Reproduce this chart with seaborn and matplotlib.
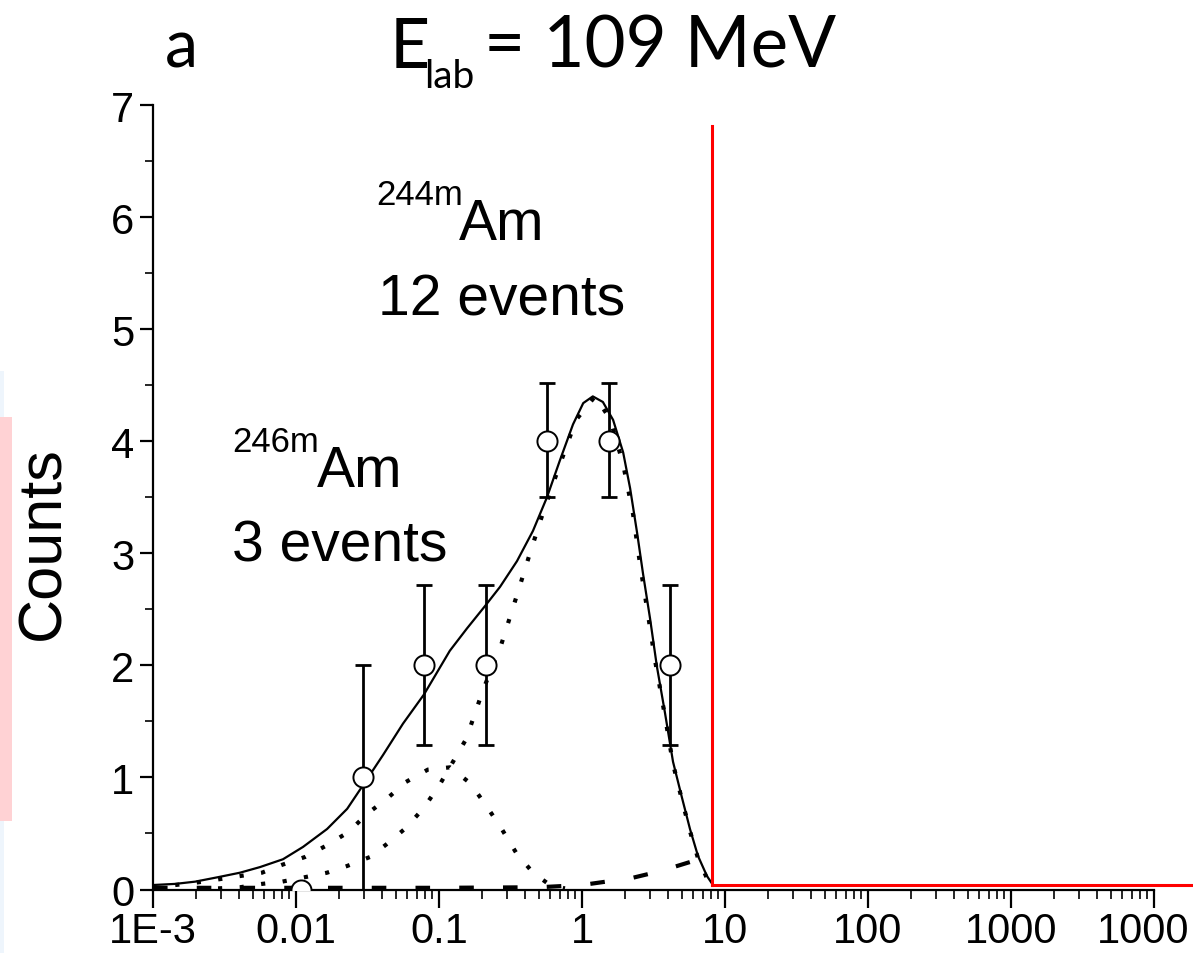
import numpy as np
import pandas as pd
import matplotlib
matplotlib.use("Agg")
import matplotlib.pyplot as plt
from matplotlib.patches import Rectangle
from matplotlib.ticker import FixedLocator, FixedFormatter, LogLocator, NullFormatter
import seaborn as sns

# Measured decay times (log bins) and counts with asymmetric errors
bin_time = [0.0108, 0.0294, 0.0790, 0.213, 0.570, 1.55, 4.10]
bin_counts = [0, 1, 2, 2, 4, 4, 2]
err_low = [0.0, 1.0, 0.71, 0.71, 0.50, 0.50, 0.71]
err_high = [0.0, 1.0, 0.72, 0.72, 0.52, 0.52, 0.72]

# Total fit
fit_time = [0.00100, 0.00143, 0.00197, 0.00285, 0.00406, 0.00560, 0.00811, 0.0112,
            0.0165, 0.0228, 0.0294, 0.0406, 0.0560, 0.0785, 0.119, 0.157, 0.210,
            0.267, 0.351, 0.454, 0.569, 0.701, 0.865, 1.02, 1.19, 1.40, 1.65, 1.94,
            2.17, 2.43, 2.67, 2.99, 3.34, 3.80, 4.33, 5.00, 5.69, 6.47, 7.48, 8.24]
fit_total = [0.04, 0.05, 0.07, 0.11, 0.15, 0.20, 0.27, 0.38,
             0.54, 0.72, 0.93, 1.20, 1.48, 1.74, 2.13, 2.33, 2.53,
             2.70, 2.93, 3.20, 3.50, 3.83, 4.15, 4.34, 4.40, 4.35, 4.19, 3.90,
             3.58, 3.18, 2.82, 2.42, 1.99, 1.58, 1.14, 0.82, 0.54, 0.30, 0.12, 0.04]

# 244mAm component
am244_time = [0.00285, 0.00406, 0.00578, 0.00798, 0.01156, 0.0165, 0.0228, 0.0329,
              0.0426, 0.0588, 0.0785, 0.1016, 0.1545, 0.2032, 0.2716, 0.3455, 0.4325,
              0.5333, 0.6683, 0.908, 1.233, 1.570, 1.936, 2.275, 2.547, 2.897, 3.237,
              3.80, 4.33, 5.00, 5.69, 6.47, 7.48, 8.24]
am244_counts = [0.01, 0.02, 0.05, 0.07, 0.11, 0.15, 0.21, 0.29,
                0.40, 0.55, 0.73, 0.94, 1.34, 1.78, 2.18, 2.60, 3.00,
                3.36, 3.72, 4.19, 4.40, 4.20, 3.80, 3.35, 2.90, 2.45, 2.05,
                1.55, 1.12, 0.80, 0.52, 0.28, 0.10, 0.03]

# 246mAm component
am246_time = [0.00143, 0.00197, 0.00285, 0.00406, 0.00578, 0.00798, 0.01156, 0.0162,
              0.0231, 0.0318, 0.0432, 0.0588, 0.0837, 0.1194, 0.1648, 0.2133, 0.2716,
              0.3455, 0.4539, 0.5969, 0.7598]
am246_counts = [0.04, 0.06, 0.09, 0.12, 0.15, 0.22, 0.29, 0.39,
                0.51, 0.68, 0.81, 0.96, 1.07, 1.09, 0.95, 0.75, 0.55,
                0.33, 0.15, 0.04, 0.01]

# Long-lived contribution
bg_time = [0.001, 0.1, 0.5, 1.0, 1.47, 2.03, 3.56, 6.58, 8.2]
bg_counts = [0.015, 0.015, 0.02, 0.04, 0.07, 0.09, 0.165, 0.27, 0.33]

x_ticks = [1e-3, 1e-2, 1e-1, 1, 10, 100, 1000, 10000]
x_tick_labels = ["1E-3", "0.01", "0.1", "1", "10", "100", "1000", "1000"]
y_ticks = [0, 1, 2, 3, 4, 5, 6, 7]

W, H = 1193, 954
sns.set_theme(style="ticks")
plt.rcParams["font.family"] = ["Liberation Sans", "DejaVu Sans"]

fig = plt.figure(figsize=(W / 100, H / 100), dpi=100)
fig.patch.set_facecolor("white")


def px(x, y):
    return x / W, 1 - y / H


ax = fig.add_axes([153 / W, (H - 890.5) / H, (1154 - 153) / W, (890.5 - 106) / H])
ax.set_facecolor("white")

pts = pd.DataFrame({"t": bin_time, "n": bin_counts, "lo": err_low, "hi": err_high})
curves = {
    "total": pd.DataFrame({"t": fit_time, "n": fit_total}),
    "244": pd.DataFrame({"t": am244_time, "n": am244_counts}),
    "246": pd.DataFrame({"t": am246_time, "n": am246_counts}),
    "bg": pd.DataFrame({"t": bg_time, "n": bg_counts}),
}

sns.lineplot(data=curves["bg"], x="t", y="n", ax=ax, color="black", lw=3.0,
             estimator=None, sort=False, zorder=2)
ax.lines[-1].set_dashes((3.5, 7))
for key in ("244", "246"):
    sns.lineplot(data=curves[key], x="t", y="n", ax=ax, color="black", lw=3.0,
                 estimator=None, sort=False, zorder=2)
    ln = ax.lines[-1]
    ln.set_dashes((1, 4.2))
    ln.set_dash_capstyle("butt")
sns.lineplot(data=curves["total"], x="t", y="n", ax=ax, color="black", lw=1.6,
             estimator=None, sort=False, zorder=3)

withbars = pts[pts["n"] > 0]
ax.errorbar(withbars["t"], withbars["n"], yerr=[withbars["lo"], withbars["hi"]],
            fmt="none", ecolor="black", elinewidth=2.0, capsize=6, capthick=2.0,
            zorder=4)
sns.scatterplot(data=pts, x="t", y="n", ax=ax, marker="o", s=210,
                facecolor="white", edgecolor="black", linewidth=1.4, zorder=5)

ax.set_xscale("log")
ax.set_xlim(1e-3, 1e4)
ax.set_ylim(0, 7)
ax.xaxis.set_major_locator(FixedLocator(x_ticks))
# the last decade label sits against the figure edge, so it is placed separately
ax.xaxis.set_major_formatter(FixedFormatter(x_tick_labels[:-1] + [""]))
ax.xaxis.set_minor_locator(LogLocator(base=10, subs=np.arange(2, 10), numticks=20))
ax.xaxis.set_minor_formatter(NullFormatter())
ax.yaxis.set_major_locator(FixedLocator(y_ticks))
ax.yaxis.set_minor_locator(FixedLocator(np.arange(0.5, 7, 1.0)))
ax.set_xlabel("")
ax.set_ylabel("")
sns.despine(ax=ax)
for s in ("left", "bottom"):
    ax.spines[s].set_linewidth(1.6)
    ax.spines[s].set_color("black")
ax.tick_params(axis="x", which="major", length=13, width=1.6, direction="out",
               labelsize=30, pad=2.5, colors="black")
ax.tick_params(axis="x", which="minor", length=6.5, width=1.4, direction="out")
ax.tick_params(axis="y", which="major", length=9.5, width=1.6, direction="out",
               labelsize=30, pad=4, colors="black")
ax.tick_params(axis="y", which="minor", length=5.5, width=1.4, direction="out")

ax.annotate(x_tick_labels[-1], xy=(x_ticks[-1], 0), xycoords=("data", "axes fraction"),
            xytext=(-8, -15.5), textcoords="offset points", ha="center", va="top",
            fontsize=30, color="black", annotation_clip=False)

# Masked region on the long-time side, outlined in red
ax.add_patch(Rectangle((8.1, 0.04), 1e6, 6.77, facecolor="white", edgecolor="none",
                       zorder=6, clip_on=False))
ax.plot([8.1, 8.1], [0.04, 6.81], color="red", lw=2.2, zorder=7, clip_on=False,
        solid_capstyle="projecting")
ax.plot([8.1, 1e6], [0.04, 0.04], color="red", lw=2.2, zorder=7, clip_on=False,
        solid_capstyle="projecting")

# Side markers along the left edge
fig.patches.append(Rectangle((0, 1 - 954 / H), 4 / W, (954 - 372) / H,
                             transform=fig.transFigure, facecolor="#eef5fc",
                             edgecolor="none", zorder=0))
fig.patches.append(Rectangle((0, 1 - 822 / H), 12 / W, (822 - 418) / H,
                             transform=fig.transFigure, facecolor="#ffd2d4",
                             edgecolor="none", zorder=1))

# Axis title and labels
fig.text(*px(44, 543), "Counts", rotation=90, ha="center", va="center",
         fontsize=44, color="black")

title_font = ["Lato", "DejaVu Sans"]
fig.text(*px(165, 68), "a", ha="left", va="baseline", fontsize=48,
         family=title_font, color="black")
fig.text(*px(390, 68), "E", ha="left", va="baseline", fontsize=50,
         family=title_font, color="black")
fig.text(*px(424, 88), "lab", ha="left", va="baseline", fontsize=28,
         family=title_font, color="black")
fig.text(*px(484, 68), "= 109 MeV", ha="left", va="baseline", fontsize=51,
         family=title_font, color="black")

fig.text(*px(376, 205), "244m", ha="left", va="baseline", fontsize=25, color="black")
fig.text(*px(459, 240), "Am", ha="left", va="baseline", fontsize=41, color="black")
fig.text(*px(378, 315), "12 events", ha="left", va="baseline", fontsize=41, color="black")

fig.text(*px(232, 452), "246m", ha="left", va="baseline", fontsize=25, color="black")
fig.text(*px(317, 487), "Am", ha="left", va="baseline", fontsize=41, color="black")
fig.text(*px(232, 562), "3 events", ha="left", va="baseline", fontsize=41, color="black")

fig.savefig("out.png", dpi=100, facecolor="white")
